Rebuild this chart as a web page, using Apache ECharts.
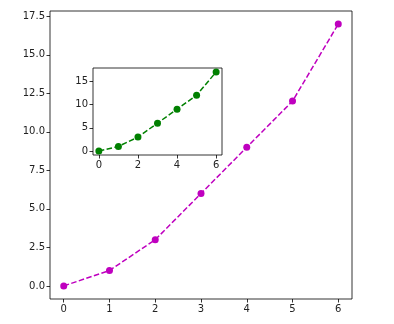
<!DOCTYPE html>
<html><head><meta charset="utf-8">
<script src="https://cdn.jsdelivr.net/npm/echarts@6/dist/echarts.min.js"></script>
<style>html,body{margin:0;padding:0;background:#fff}#c{width:394px;height:324px}</style>
</head><body><div id="c"></div>
<script>
const xValues = [0, 1, 2, 3, 4, 5, 6];
const yValues = [0, 1, 3, 6, 9, 12, 17];
const mainXTicks = [0, 1, 2, 3, 4, 5, 6];
const mainYTicks = [0, 2.5, 5, 7.5, 10, 12.5, 15, 17.5];
const insetXTicks = [0, 2, 4, 6];
const insetYTicks = [0, 5, 10, 15];

const font = 'DejaVu Sans';
const pts = xValues.map((x, i) => [x, yValues[i]]);
function xAxis(gi, ticks, fmt) {
  return {
    type: 'value', gridIndex: gi, min: -0.3, max: 6.3, position: 'bottom',
    axisLine: { show: false, onZero: false },
    splitLine: { show: false },
    axisTick: { show: true, inside: false, length: 3.5, customValues: ticks, lineStyle: { color: '#000', width: 0.8 } },
    axisLabel: { show: true, customValues: ticks, margin: 5, color: '#222', fontFamily: font, fontSize: 10, formatter: fmt }
  };
}
function yAxis(gi, ticks, fmt) {
  return {
    type: 'value', gridIndex: gi, min: -0.85, max: 17.85, position: 'left',
    axisLine: { show: false, onZero: false },
    splitLine: { show: false },
    axisTick: { show: true, inside: false, length: 3.5, customValues: ticks, lineStyle: { color: '#000', width: 0.8 } },
    axisLabel: { show: true, customValues: ticks, margin: 5, color: '#222', fontFamily: font, fontSize: 10, formatter: fmt }
  };
}
const chart = echarts.init(document.getElementById('c'), null, { renderer: 'canvas' });
chart.setOption({
  animation: false,
  backgroundColor: '#fff',
  grid: [
    { left: 50, top: 11, width: 302, height: 288, show: true, borderColor: '#000', borderWidth: 0.8, backgroundColor: '#fff', z: 0 },
    { left: 93, top: 68, width: 129, height: 87, show: true, borderColor: '#000', borderWidth: 0.8, backgroundColor: '#fff', z: 5 }
  ],
  xAxis: [
    xAxis(0, mainXTicks, v => String(Math.round(v))),
    xAxis(1, insetXTicks, v => String(Math.round(v)))
  ],
  yAxis: [
    yAxis(0, mainYTicks, v => v.toFixed(1)),
    yAxis(1, insetYTicks, v => String(Math.round(v)))
  ],
  series: [
    {
      type: 'line', xAxisIndex: 0, yAxisIndex: 0, data: pts,
      symbol: 'circle', symbolSize: 7,
      itemStyle: { color: '#bf00bf' },
      lineStyle: { color: '#bf00bf', width: 1.5, type: [5.55, 2.4] },
      z: 2
    },
    {
      type: 'line', xAxisIndex: 1, yAxisIndex: 1, data: pts,
      symbol: 'circle', symbolSize: 7,
      itemStyle: { color: '#008000' },
      lineStyle: { color: '#008000', width: 1.5, type: [5.55, 2.4] },
      z: 10
    }
  ]
});
</script></body></html>
